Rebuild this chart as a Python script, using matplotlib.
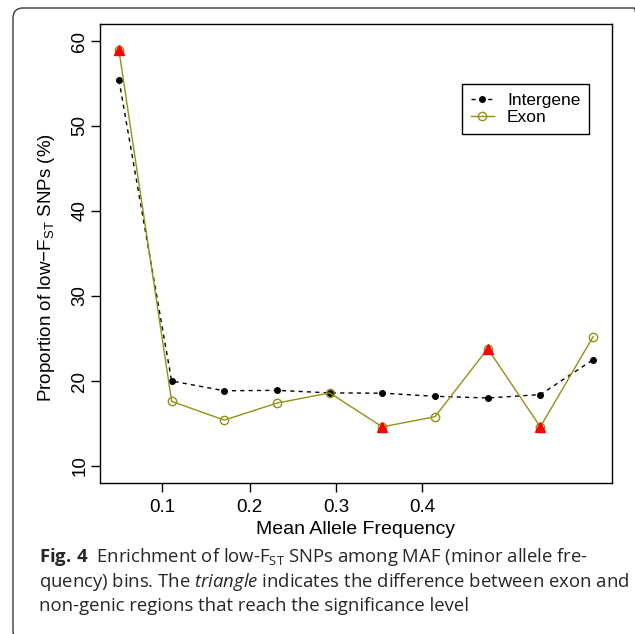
import numpy as np
import matplotlib
matplotlib.use('Agg')
import matplotlib.pyplot as plt
from matplotlib.patches import FancyBboxPatch
from matplotlib.transforms import IdentityTransform

# data (MAF bins)
maf = np.array([0.025, 0.075, 0.125, 0.175, 0.225, 0.275, 0.325, 0.375, 0.425, 0.475])
intergene = np.array([55.4, 20.0, 18.85, 18.9, 18.6, 18.57, 18.2, 18.0, 18.4, 22.5])
exon = np.array([58.9, 17.6, 15.4, 17.4, 18.6, 14.6, 15.8, 23.8, 14.6, 25.2])
significant = np.array([True, False, False, False, False, True, False, True, True, False])

# x tick labels sit where the original R plot put them
xtick_pos = [0.066, 0.149, 0.231, 0.313]
xtick_lab = ['0.1', '0.2', '0.3', '0.4']
ytick_pos = [10, 20, 30, 40, 50, 60]

olive = '#929214'

plt.rcParams['font.family'] = 'Liberation Sans'
plt.rcParams['mathtext.fontset'] = 'custom'
plt.rcParams['mathtext.rm'] = 'Open Sans'
plt.rcParams['mathtext.it'] = 'Open Sans:italic'
plt.rcParams['mathtext.bf'] = 'Open Sans:bold'

W, H = 635, 634
fig = plt.figure(figsize=(W / 100, H / 100), dpi=100)

# card outline (rounded, runs off the right/bottom edge)
card = FancyBboxPatch((13, -7), 631, H - 8 + 7, boxstyle='round,pad=0,rounding_size=10',
                      transform=IdentityTransform(), facecolor='none',
                      edgecolor='#3a3a3a', lw=1.0, clip_on=False)
fig.patches.append(card)

ax = fig.add_axes([100 / W, 1 - 483 / H, 512 / W, 459 / H])

ax.plot(maf, intergene, color='black', lw=1, ls=(0, (3, 3)), marker='o', ms=4,
        mfc='black', mec='black', label='Intergene')
ax.plot(maf, exon, color=olive, lw=1, marker='o', ms=6, mfc='none', mec=olive,
        mew=1, label='Exon')
ax.plot(maf[significant], exon[significant], ls='none', marker='^', ms=7,
        color='red', mec='red')

ax.set_xlim(0.007, 0.493)
ax.set_ylim(8, 62)
ax.set_xticks(xtick_pos)
ax.set_xticklabels(xtick_lab)
ax.set_yticks(ytick_pos)
for lab in ax.get_yticklabels():
    lab.set_rotation(90)
    lab.set_va('center')

ax.tick_params(direction='out', length=6.5, width=1, labelsize=13.5, color='black')
ax.tick_params(axis='x', pad=5)
ax.tick_params(axis='y', pad=2)
for sp in ax.spines.values():
    sp.set_linewidth(1)
    sp.set_color('black')

ax.set_xlabel('Mean Allele Frequency', fontsize=14)
ax.xaxis.label.set_va('center')
ax.xaxis.set_label_coords(0.5, (483 - 530) / 459)
ax.set_ylabel('Proportion of low\u2212F$_{\\mathregular{ST}}$ SNPs (%)', fontsize=13.5)
ax.yaxis.label.set_va('center')
ax.yaxis.set_label_coords((47 - 100) / 512, (483 - 268) / 459)

leg = ax.legend(loc='upper left', bbox_to_anchor=(0.707, 0.869), borderaxespad=0,
                fontsize=12.5, fancybox=False, edgecolor='black', framealpha=1,
                handlelength=1.35, handletextpad=0.75, labelspacing=0.12, borderpad=0.5)
leg.get_frame().set_linewidth(1)

# caption
cap_kw = dict(fontsize=13.3, family='Open Sans', color='#262626', va='baseline', ha='left')
fig.text(39 / W, 1 - 562 / H,
         r'$\mathbf{Fig.\,4}$  Enrichment of low-F$_{\mathregular{ST}}$ SNPs among MAF (minor allele fre-',
         **cap_kw)
fig.text(39 / W, 1 - 587 / H,
         r'quency) bins. The $\mathit{triangle}$ indicates the difference between exon and',
         **cap_kw)
fig.text(39 / W, 1 - 611 / H,
         'non-genic regions that reach the significance level', **cap_kw)

fig.savefig('out.png', dpi=100)
